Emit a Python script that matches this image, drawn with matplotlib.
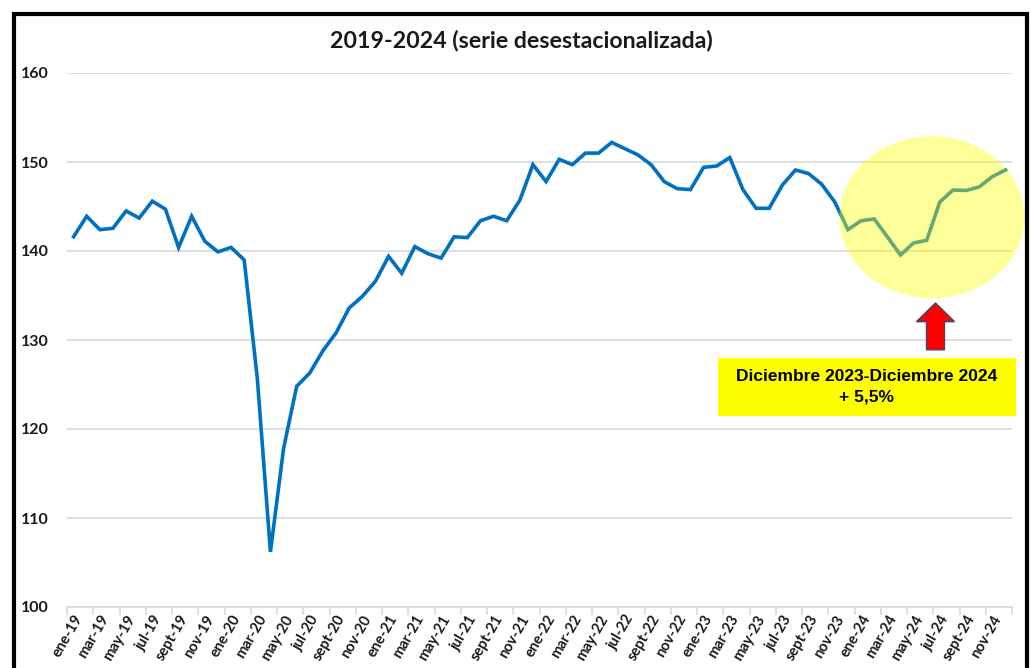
import matplotlib
matplotlib.use("Agg")
import matplotlib.pyplot as plt
from matplotlib import patches

# =========================
# DATA
# =========================
years = ["19", "20", "21", "22", "23", "24"]
months = ["ene", "feb", "mar", "abr", "may", "jun",
          "jul", "ago", "sept", "oct", "nov", "dic"]
labels = [f"{m}-{y}" for y in years for m in months]

values = [
    # 2019
    141.6, 143.9, 142.4, 142.55, 144.5, 143.7, 145.6, 144.7, 140.4, 143.9, 141.1, 139.9,
    # 2020
    140.4, 139.0, 125.7, 106.2, 117.8, 124.8, 126.3, 128.8, 130.8, 133.6, 134.9, 136.6,
    # 2021
    139.4, 137.5, 140.5, 139.7, 139.2, 141.6, 141.5, 143.4, 143.9, 143.4, 145.7, 149.7,
    # 2022
    147.8, 150.3, 149.7, 151.0, 151.0, 152.2, 151.5, 150.8, 149.7, 147.8, 147.0, 146.9,
    # 2023
    149.4, 149.55, 150.5, 146.9, 144.8, 144.8, 147.4, 149.1, 148.7, 147.5, 145.5, 142.4,
    # 2024
    143.4, 143.6, 141.6, 139.55, 140.9, 141.2, 145.5, 146.85, 146.8, 147.2, 148.35, 149.1,
]

TITLE = "2019-2024 (serie desestacionalizada)"
BOX_TEXT = "Diciembre 2023-Diciembre 2024\n+ 5,5%"
Y_TICKS = [100, 110, 120, 130, 140, 150, 160]

LINE_COLOR = "#0070C0"
GRID_COLOR = "#D9D9D9"

# =========================
# FIGURE
# =========================
fig = plt.figure(figsize=(10.30, 6.68), dpi=100)
ax = fig.add_axes([67 / 1030, 61 / 668, 945 / 1030, 534 / 668])

n = len(values)
xs = list(range(n))
ax.plot(xs, values, color=LINE_COLOR, linewidth=2.6, solid_joinstyle="miter", zorder=3)

ax.set_xlim(-0.5, n - 0.5)
ax.set_ylim(100, 160)

# grid + spines
ax.set_yticks(Y_TICKS)
ax.yaxis.grid(True, color=GRID_COLOR, linewidth=1.2)
ax.set_axisbelow(True)
for s in ["top", "right", "left"]:
    ax.spines[s].set_visible(False)
ax.spines["bottom"].set_color(GRID_COLOR)
ax.spines["bottom"].set_linewidth(1.2)
ax.tick_params(axis="y", length=0, pad=13)
for lab in ax.get_yticklabels():
    lab.set_fontfamily("Lato")
    lab.set_fontweight("bold")
    lab.set_fontsize(11.5)
    lab.set_color("#1a1a1a")

# x ticks: marks on category boundaries, labels every 2 months
ax.set_xticks([i - 0.5 for i in range(0, n + 1, 2)])
ax.set_xticklabels([])
ax.tick_params(axis="x", which="major", length=6, color=GRID_COLOR, width=1.2)
ax.set_xticks(xs[::2], minor=True)
ax.set_xticklabels(labels[::2], minor=True, rotation=60, ha="right", va="top",
                   rotation_mode="anchor", fontsize=10.5, fontweight="bold",
                   fontfamily="Lato", color="#1a1a1a")
ax.tick_params(axis="x", which="minor", length=0, pad=4)

# highlight ellipse (over the line, making it look green)
ell = patches.Ellipse((65.4, 143.8), 14.1, 18.2, facecolor="#FFFF00", alpha=0.4,
                      edgecolor="none", zorder=4, clip_on=False)
ax.add_patch(ell)

# red arrow
arrow = patches.FancyArrow(65.67, 128.9, 0, 5.26, width=1.37, head_width=2.9,
                           head_length=2.1, length_includes_head=True,
                           facecolor="#FF0000", edgecolor="#3b4a6b", linewidth=1,
                           zorder=5, clip_on=False)
ax.add_patch(arrow)

# yellow text box
box = patches.Rectangle((49.1, 121.46), 22.7, 6.52, facecolor="#FFFF00",
                        edgecolor="none", zorder=5, clip_on=False)
ax.add_patch(box)
ax.text(60.45, 124.75, BOX_TEXT, ha="center", va="center", fontsize=12.5,
        fontweight="bold", fontfamily="Liberation Sans", linespacing=1.5, zorder=6)

# title
fig.text(0.506, 0.94, TITLE, ha="center", va="center", fontsize=16.7,
         fontweight="bold", fontfamily="Lato", color="#1a1a1a")

# outer frame
frame = patches.Rectangle((14 / 1030, -0.05), 1013 / 1030, (654 / 668) + 0.05,
                          transform=fig.transFigure, fill=False, edgecolor="black",
                          linewidth=3, zorder=10, clip_on=False)
fig.patches.append(frame)

fig.savefig("out.png", dpi=100)
